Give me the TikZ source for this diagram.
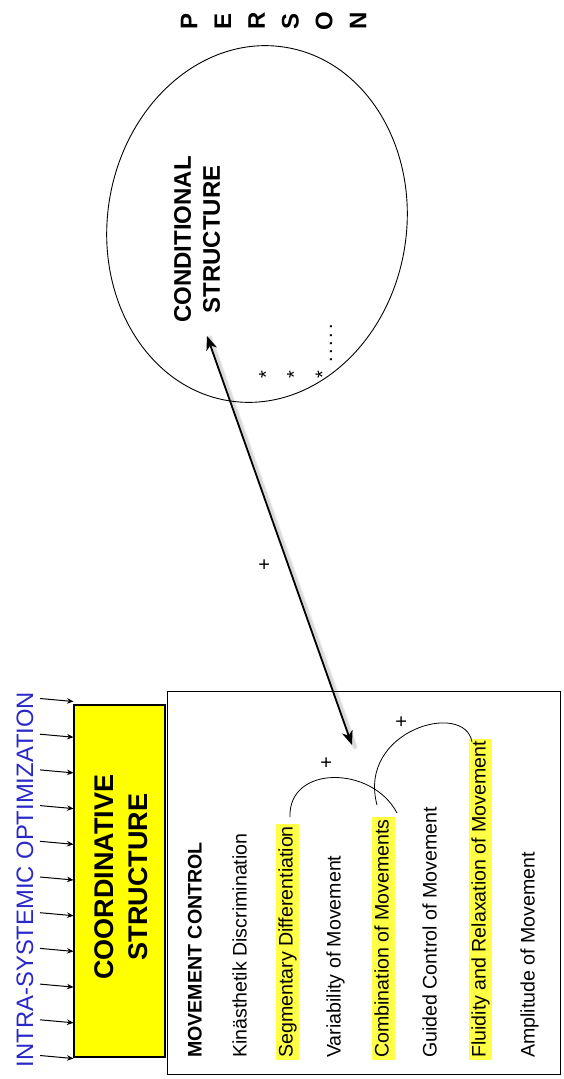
\documentclass[tikz,border=0pt]{standalone}
\usepackage{fontspec}
\setmainfont{Liberation Sans}
\usetikzlibrary{arrows.meta,shapes.geometric}
\definecolor{boxyellow}{RGB}{255,255,0}
\definecolor{hiyellow}{RGB}{255,255,70}
\definecolor{optblue}{RGB}{40,40,200}
\begin{document}
\begin{tikzpicture}[x=1pt,y=-1pt,
  item/.style={rotate=90, anchor=west, inner xsep=2pt, inner ysep=1.5pt,
    text height=15.5pt, text depth=4.5pt, font=\fontsize{19.6}{22}\selectfont},
  hilite/.style={item, fill=hiyellow},
  plus/.style={rotate=90, inner sep=0pt, font=\fontsize{20}{22}\selectfont},
  star/.style={rotate=90, inner sep=0pt, anchor=north, font=\fontsize{20}{22}\selectfont},
  smallarrow/.style={line width=1pt, -{Stealth[length=6.5pt,width=5.5pt]}},
  arcline/.style={line width=0.8pt},
  bigarrow/.style={line width=1.8pt, {Stealth[length=14pt,width=11pt,inset=4pt]}-{Stealth[length=14pt,width=11pt,inset=4pt]}}
]
\useasboundingbox (0,0) rectangle (564,1079);

% PERSON ellipse
\node[draw, ellipse, rotate=-9, minimum width=299pt, minimum height=358pt, inner sep=0pt, line width=0.9pt] (person) at (257,224) {};
\node[rotate=90, align=center, font=\bfseries\fontsize{24}{33.8}\selectfont] (personlabel) at (273.5,21) {P\\E\\R\\S\\O\\N};
\node[rotate=90, align=center, font=\bfseries\fontsize{24}{29}\selectfont] (condlabel) at (197,239.5) {CONDITIONAL\\STRUCTURE};
\node[star] (s1) at (259,375) {*};
\node[star] (s2) at (287,375) {*};
\node[star] (s3) at (315.5,375) {*};
\node[rotate=90, inner sep=0pt, font=\fontsize{20}{22}\selectfont] (dots) at (331,343.5) {.\kern2.7pt.\kern2.7pt.\kern2.7pt.\kern2.7pt.};

% coordinative structure
\node[draw, fill=boxyellow, line width=1.2pt, minimum width=91pt, minimum height=352pt, inner sep=0pt] (coord) at (119.5,881) {};
\node[rotate=90, align=center, font=\bfseries\fontsize{27}{34}\selectfont] (coordlabel) at (121,877) {COORDINATIVE\\STRUCTURE};
\node[rotate=90, text=optblue, font=\fontsize{23.8}{26}\selectfont] (opt) at (25,879.5) {INTRA-SYSTEMIC OPTIMIZATION};
\foreach \i in {0,...,10}{
  \pgfmathsetmacro\yy{700+35.7*\i}
  \coordinate (sa\i) at (40,\yy-1.5);
  \coordinate (sb\i) at (73.5,\yy+1.5);
  \draw[smallarrow] (sa\i) -- (sb\i);
}

% movement control box
\node[draw, line width=1pt, minimum width=393pt, minimum height=383pt, inner sep=0pt] (mcbox) at (363.5,882.5) {};
\node[item, font=\bfseries\fontsize{19.6}{22}\selectfont] (mc) at (196,1060) {MOVEMENT CONTROL};
\node[item] (kin) at (241,1060) {Kinästhetik Discrimination};
\node[hilite] (seg) at (287,1060) {Segmentary Differentiation};
\node[item] (var) at (335,1060) {Variability of Movement};
\node[hilite] (comb) at (383,1060) {Combination of Movements};
\node[item] (guid) at (431,1060) {Guided Control of Movement};
\node[hilite] (flu) at (480,1060) {Fluidity and Relaxation of Movement};
\node[item] (amp) at (529,1060) {Amplitude of Movement};

% arcs between highlighted items
\coordinate (a1s) at (290,817);
\coordinate (a1e) at (397,813);
\draw[arcline] (a1s) .. controls (288,765) and (372,765) .. (a1e);
\coordinate (a2s) at (377,805);
\coordinate (a2e) at (472,742);
\draw[arcline] (a2s) .. controls (357,730) and (465,700) .. (a2e);
\node[plus] (p1) at (327,763) {+};
\node[plus] (p2) at (402,722) {+};

% double arrow between structures
\coordinate (pA) at (207,336);
\coordinate (pB) at (352,745);
\foreach \s/\o in {6/0.04,4.5/0.05,3/0.07}{
  \draw[line width=\s pt, black, opacity=\o, line cap=round] ([xshift=3pt,yshift=-2pt]pA) -- ([xshift=3pt,yshift=-2pt]pB);
}
\draw[bigarrow] (pA) -- (pB);
\node[plus] (p3) at (265,565) {+};
\end{tikzpicture}
\end{document}
